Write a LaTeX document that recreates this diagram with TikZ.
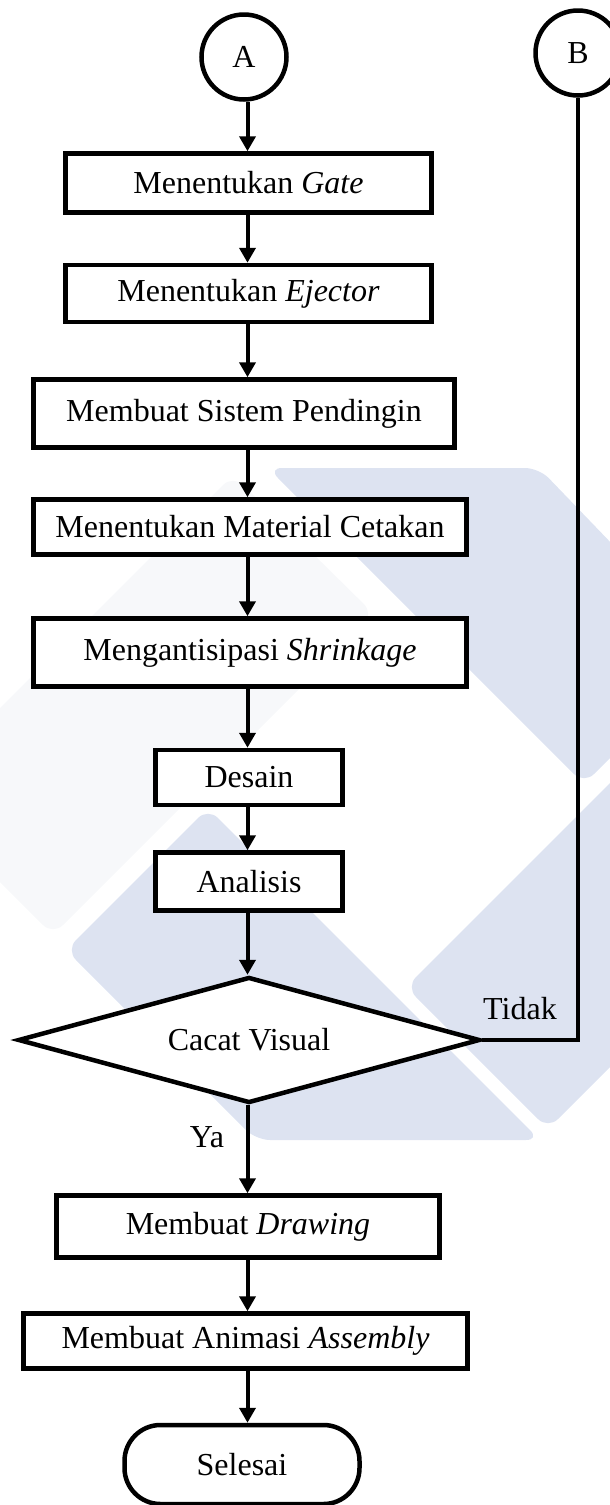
\documentclass[tikz,border=0pt]{standalone}
\usepackage{fontspec}
\setmainfont{Liberation Serif}
\usetikzlibrary{arrows.meta,shapes.geometric}
\definecolor{wmblue}{RGB}{221,227,241}
\definecolor{wmgray}{RGB}{247,248,250}
\begin{document}
\begin{tikzpicture}[x=1pt,y=-1pt,
  every node/.style={font=\fontsize{32}{38}\selectfont},
  box/.style={draw, line width=4.5pt, fill=white, rectangle, inner sep=0pt, align=center},
  conn/.style={circle, draw, line width=4.5pt, fill=white, minimum size=85pt, inner sep=0pt},
  flow/.style={line width=4pt, -{Triangle[length=15pt,width=16pt]}},
  link/.style={line width=4.2pt},
  wm/.style={rounded corners=14pt}]
\useasboundingbox (0,0) rectangle (610,1505);
% watermark
\begin{scope}
\clip (0,0) rectangle (610,1505);
\fill[wmgray, wm] (233,475) -- (374,614) -- (53,935) -- (-87,795) -- cycle;
\fill[wmblue, wm] (268,468) -- (539,468) -- (716,652) -- (584,784) -- cycle;
\fill[wmblue, wm] (406,987) -- (548,1129) -- (848,829) -- (706,687) -- cycle;
\fill[wmblue, wm] (208,808) -- (540,1140) -- (256,1140) -- (66,950) -- cycle;
\end{scope}
\coordinate (col) at (247.5,0);
% nodes
\node[conn] (A) at (244,57) {A};
\node[conn] (B) at (578,53) {B};
\node[box, minimum width=366pt, minimum height=59pt] (gate) at (248.5,183) {Menentukan \textit{Gate}};
\node[box, minimum width=366pt, minimum height=57pt] (ejector) at (248.5,293.5) {Menentukan \textit{Ejector}};
\node[box, minimum width=421pt, minimum height=68pt] (pendingin) at (244,413.5) {Membuat Sistem Pendingin};
\node[box, minimum width=433pt, minimum height=55pt] (cetakan) at (250,527) {Menentukan Material Cetakan};
\node[box, minimum width=433pt, minimum height=68pt] (shrink) at (250,652.5) {Mengantisipasi \textit{Shrinkage}};
\node[box, minimum width=187pt, minimum height=55pt] (desain) at (249,777.5) {Desain};
\node[box, minimum width=187pt, minimum height=58pt] (analisis) at (249,881.5) {Analisis};
\node[diamond, draw, line width=4.5pt, fill=white, minimum width=462pt, minimum height=126pt, inner sep=0pt, aspect=3.7] (cv) at (249,1040) {Cacat Visual};
\node[box, minimum width=383pt, minimum height=62pt] (drawing) at (248,1226.5) {Membuat \textit{Drawing}};
\node[box, minimum width=444pt, minimum height=55pt] (anim) at (245.5,1341) {Membuat Animasi \textit{Assembly}};
\node[draw, line width=4.5pt, fill=white, rounded corners=36pt, minimum width=235pt, minimum height=79pt, inner sep=0pt] (end) at (242,1464.5) {Selesai};
\node (ya) at (207,1137.5) {Ya};
\node (tidak) at (520,1009) {Tidak};
% connectors
\draw[flow] (A.south -| col) -- (gate.north -| col);
\draw[flow] (gate.south -| col) -- (ejector.north -| col);
\draw[flow] (ejector.south -| col) -- (pendingin.north -| col);
\draw[flow] (pendingin.south -| col) -- (cetakan.north -| col);
\draw[flow] (cetakan.south -| col) -- (shrink.north -| col);
\draw[flow] (shrink.south -| col) -- (desain.north -| col);
\draw[flow] (desain.south -| col) -- (analisis.north -| col);
\draw[flow] (analisis.south -| col) -- (cv.north -| col);
\draw[flow] (cv.south -| col) -- (drawing.north -| col);
\draw[flow] (drawing.south -| col) -- (anim.north -| col);
\draw[flow] (anim.south -| col) -- (end.north -| col);
\draw[link] (cv.east) -| (B.south);
\end{tikzpicture}
\end{document}
